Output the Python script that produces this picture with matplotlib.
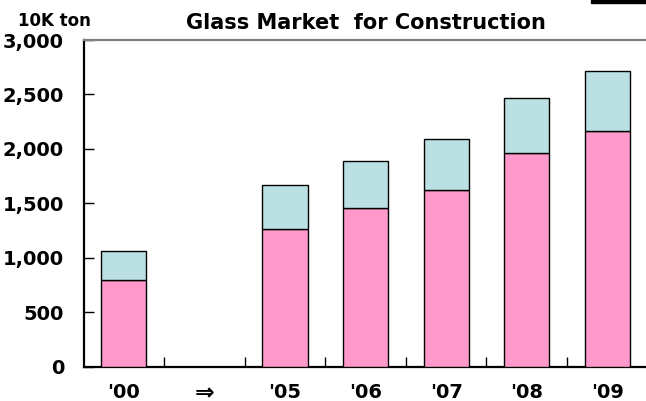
import numpy as np
import matplotlib.pyplot as plt
import matplotlib.transforms as mtransforms
from matplotlib.ticker import FuncFormatter, FixedLocator

# Glass market for construction (10K ton)
years = ["'00", "\u21d2", "'05", "'06", "'07", "'08", "'09"]
lower = [800, np.nan, 1265, 1455, 1625, 1960, 2165]
upper_total = [1060, np.nan, 1670, 1890, 2095, 2470, 2712]

pink = '#FF99CC'
light_blue = '#BBE0E3'

plt.rcParams['font.family'] = ['DejaVu Sans']
plt.rcParams['font.weight'] = 'bold'

fig = plt.figure(figsize=(6.46, 4.01), dpi=100)
ax = fig.add_axes([0.1293, 0.0855, 0.8733, 0.8147])

x = np.arange(len(years))
lower_arr = np.array(lower, dtype=float)
upper_arr = np.array(upper_total, dtype=float) - lower_arr
width = 0.56

ax.bar(x, lower_arr, width, color=pink, edgecolor='black', linewidth=1.0, zorder=3)
ax.bar(x, upper_arr, width, bottom=lower_arr, color=light_blue,
       edgecolor='black', linewidth=1.0, zorder=3)

ax.set_xlim(-0.5, len(years) - 0.5)
ax.set_ylim(0, 3000)
ax.set_yticks(np.arange(0, 3001, 500))
ax.yaxis.set_major_formatter(FuncFormatter(lambda v, p: f'{int(v):,}'))
ax.set_xticks(x)
ax.set_xticklabels(years)
ax.xaxis.set_minor_locator(FixedLocator(np.arange(0.5, len(years) - 0.5, 1)))

ax.tick_params(axis='y', direction='in', length=7, width=1, labelsize=14, pad=14)
ax.tick_params(axis='x', which='major', length=0, labelsize=14, pad=12)
ax.tick_params(axis='x', which='minor', direction='in', length=7, width=1)

for lab in ax.get_xticklabels() + ax.get_yticklabels():
    lab.set_fontweight('bold')

# the arrow glyph is drawn larger in the original; lift it to sit with the others
arrow = ax.get_xticklabels()[1]
arrow.set_fontsize(17)
arrow.set_transform(arrow.get_transform() +
                    mtransforms.ScaledTranslation(0, 1.5 / 72, fig.dpi_scale_trans))

ax.spines['left'].set_linewidth(1.6)
ax.spines['bottom'].set_linewidth(1.6)
ax.spines['top'].set_color('#808080')
ax.spines['top'].set_linewidth(1.6)
ax.spines['right'].set_visible(False)

ax.set_title('Glass Market  for Construction', fontsize=15, fontweight='bold', pad=8)
fig.text(0.084, 0.925, '10K ton', fontsize=12, fontweight='bold', ha='center', va='bottom')

# small dark bar at the top right edge of the slide
fig.patches.append(plt.Rectangle((0.915, 0.992), 0.085, 0.008, transform=fig.transFigure,
                                 color='black', zorder=5))

fig.savefig('out.png', dpi=100)
